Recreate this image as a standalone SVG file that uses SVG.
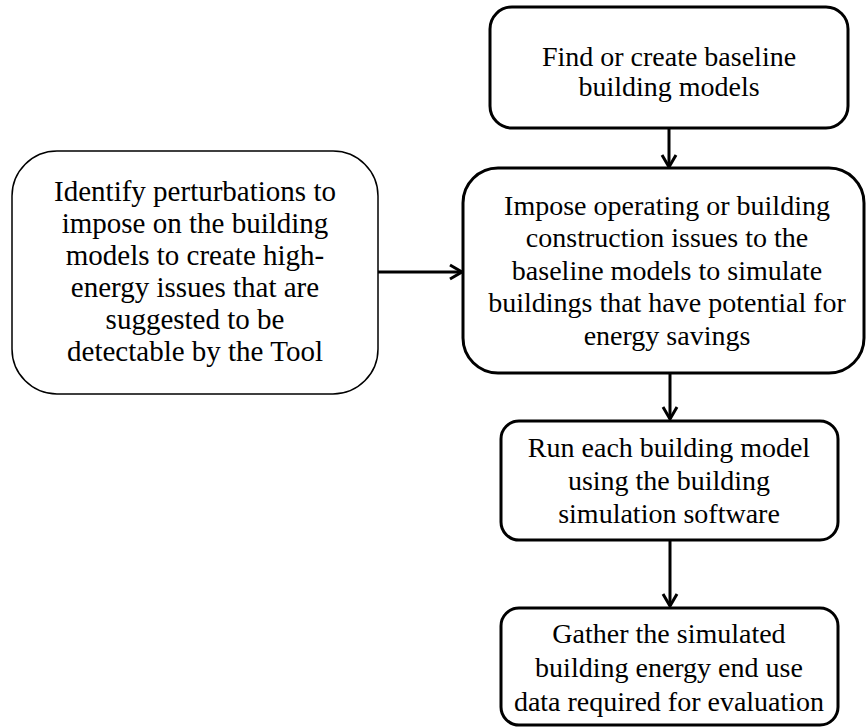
<svg xmlns="http://www.w3.org/2000/svg" width="868" height="728" viewBox="0 0 868 728">
<style>
  .box { fill: #ffffff; stroke: #000000; stroke-width: 3; }
  .thin { fill: #ffffff; stroke: #000000; stroke-width: 1.5; }
  .lbl { font-family: "Liberation Serif", "Times New Roman", serif; font-size: 28px; fill: #000000; text-anchor: middle; }
  .big { font-size: 29px; }
  .conn { stroke: #000000; stroke-width: 3; fill: none; }
</style>
<defs>
  <marker id="arr" markerUnits="userSpaceOnUse" markerWidth="20" markerHeight="20" viewBox="0 0 20 20" refX="14" refY="10" orient="auto">
    <path d="M2,3 L14,10 L2,17" fill="none" stroke="#000" stroke-width="3"/>
  </marker>
</defs>
<rect width="868" height="728" fill="#ffffff"/>
<g id="connectors">
  <line class="conn" x1="669" y1="128" x2="669" y2="167" marker-end="url(#arr)"/>
  <line class="conn" x1="378" y1="272" x2="462" y2="272" marker-end="url(#arr)"/>
  <line class="conn" x1="670" y1="373" x2="670" y2="419" marker-end="url(#arr)"/>
  <line class="conn" x1="670" y1="540" x2="670" y2="606" marker-end="url(#arr)"/>
</g>
<g id="find">
  <rect class="box" x="490" y="7" width="358" height="121" rx="22"/>
  <text class="lbl" x="669" y="66">Find or create baseline</text>
  <text class="lbl" x="669" y="96">building models</text>
</g>
<g id="identify">
  <rect class="thin" x="12" y="151" width="366" height="243" rx="45"/>
  <text class="lbl big" x="195" y="201">Identify perturbations to</text>
  <text class="lbl big" x="195" y="233">impose on the building</text>
  <text class="lbl big" x="195" y="265">models to create high-</text>
  <text class="lbl big" x="195" y="297">energy issues that are</text>
  <text class="lbl big" x="195" y="329">suggested to be</text>
  <text class="lbl big" x="195" y="361">detectable by the Tool</text>
</g>
<g id="impose">
  <rect class="box" x="463" y="168" width="401" height="205" rx="35"/>
  <text class="lbl" x="667" y="215">Impose operating or building</text>
  <text class="lbl" x="667" y="247">construction issues to the</text>
  <text class="lbl" x="667" y="280">baseline models to simulate</text>
  <text class="lbl" x="667" y="312">buildings that have potential for</text>
  <text class="lbl" x="667" y="345">energy savings</text>
</g>
<g id="run">
  <rect class="box" x="501" y="421" width="337" height="119" rx="18"/>
  <text class="lbl" x="669" y="457">Run each building model</text>
  <text class="lbl" x="669" y="490">using the building</text>
  <text class="lbl" x="669" y="523">simulation software</text>
</g>
<g id="gather">
  <rect class="box" x="501" y="608" width="337" height="117" rx="18"/>
  <text class="lbl" x="669" y="643">Gather the simulated</text>
  <text class="lbl" x="669" y="677">building energy end use</text>
  <text class="lbl" x="669" y="711">data required for evaluation</text>
</g>
</svg>
